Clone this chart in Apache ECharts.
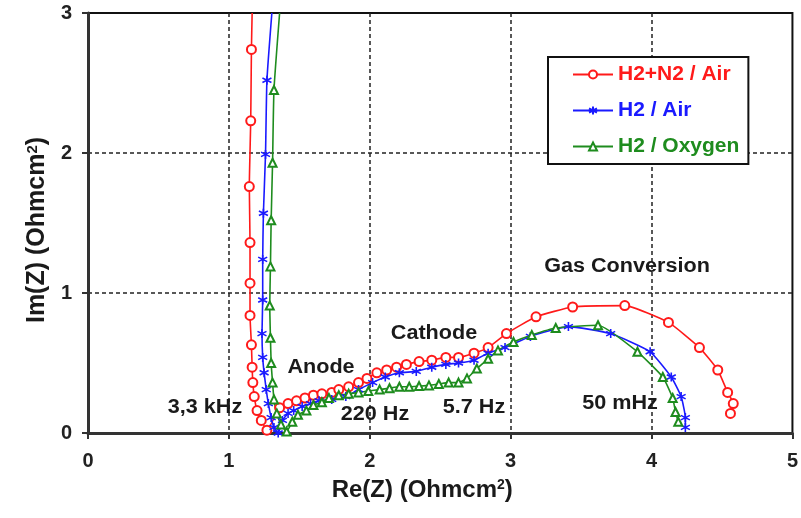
<!DOCTYPE html>
<html>
<head>
<meta charset="utf-8">
<script src="https://cdn.jsdelivr.net/npm/echarts@6/dist/echarts.min.js"></script>
<style>html,body{margin:0;padding:0;background:#fff}#c{width:801px;height:518px}</style>
</head>
<body>
<div id="c"></div>
<script>
// ---- data (Re(Z), Im(Z) in Ohm cm^2) ----
var seriesNames = ['H2+N2 / Air', 'H2 / Air', 'H2 / Oxygen'];
var xTicks = [0, 1, 2, 3, 4, 5];
var yTicks = [0, 1, 2, 3];

var redRe = [1.165, 1.16, 1.155, 1.145, 1.15, 1.15, 1.15, 1.16, 1.165, 1.17, 1.18, 1.20, 1.23, 1.27,
  1.36, 1.42, 1.48, 1.54, 1.60, 1.66, 1.73, 1.78, 1.85, 1.92, 1.98, 2.05, 2.12, 2.19, 2.26, 2.35, 2.44,
  2.54, 2.63, 2.74, 2.84, 2.97, 3.18, 3.44, 3.81, 4.12, 4.34, 4.47, 4.54, 4.58, 4.56];
var redIm = [3.0, 2.74, 2.23, 1.76, 1.36, 1.07, 0.84, 0.63, 0.47, 0.36, 0.26, 0.16, 0.09, 0.02,
  0.18, 0.21, 0.23, 0.25, 0.27, 0.28, 0.29, 0.31, 0.33, 0.36, 0.39, 0.43, 0.45, 0.47, 0.49, 0.51, 0.52,
  0.54, 0.54, 0.57, 0.61, 0.71, 0.83, 0.90, 0.91, 0.79, 0.61, 0.45, 0.29, 0.21, 0.14];

var blueRe = [1.305, 1.27, 1.26, 1.245, 1.24, 1.24, 1.235, 1.24, 1.25, 1.265, 1.28, 1.30, 1.32, 1.35,
  1.38, 1.42, 1.46, 1.52, 1.58, 1.64, 1.73, 1.83, 1.92, 2.02, 2.11, 2.21, 2.33, 2.44, 2.54, 2.63, 2.74,
  2.84, 2.96, 3.14, 3.41, 3.71, 3.99, 4.14, 4.21, 4.24, 4.24];
var blueIm = [3.0, 2.52, 1.99, 1.57, 1.24, 0.95, 0.71, 0.54, 0.43, 0.31, 0.21, 0.11, 0.04, 0.0,
  0.09, 0.14, 0.16, 0.19, 0.21, 0.23, 0.24, 0.26, 0.31, 0.36, 0.40, 0.43, 0.44, 0.47, 0.49, 0.50, 0.52,
  0.57, 0.61, 0.69, 0.76, 0.71, 0.58, 0.40, 0.26, 0.11, 0.04];

var greenRe = [1.36, 1.32, 1.31, 1.30, 1.295, 1.29, 1.295, 1.30, 1.31, 1.32, 1.34, 1.37, 1.41,
  1.45, 1.49, 1.55, 1.60, 1.66, 1.71, 1.78, 1.85, 1.92, 1.99, 2.07, 2.14, 2.21, 2.28, 2.35, 2.42, 2.49,
  2.56, 2.63, 2.69, 2.76, 2.84, 2.91, 3.02, 3.15, 3.32, 3.62, 3.90, 4.08, 4.15, 4.17, 4.19];
var greenIm = [3.0, 2.45, 1.93, 1.52, 1.19, 0.91, 0.68, 0.50, 0.36, 0.24, 0.14, 0.06, 0.01,
  0.08, 0.13, 0.16, 0.20, 0.22, 0.25, 0.27, 0.28, 0.29, 0.30, 0.31, 0.32, 0.33, 0.33, 0.335, 0.34, 0.35,
  0.36, 0.36, 0.39, 0.46, 0.53, 0.59, 0.65, 0.70, 0.75, 0.77, 0.58, 0.40, 0.25, 0.15, 0.08];

var annotations = ['Gas Conversion', 'Cathode', 'Anode', '3,3 kHz', '220 Hz', '5.7 Hz', '50 mHz'];

// ---- build ----
var FONT = '"Liberation Sans", Arial, sans-serif';
function pairs(xs, ys) {
  return xs.map(function (x, i) {
    var v = [x, ys[i]];
    return i === 0 ? { value: v, symbol: 'none' } : v;
  });
}
var RED = '#ff1a1a', BLUE = '#1a1aff', GREEN = '#1e8c1e';
var asterisk = 'path://M5,0L5,10M0.7,2.5L9.3,7.5M0.7,7.5L9.3,2.5';

var annPos = [[627, 266], [434, 333], [321, 367], [205, 407], [375, 414], [474, 407], [620, 403]];

var chart = echarts.init(document.getElementById('c'), null, { renderer: 'canvas' });
chart.setOption({
  backgroundColor: '#fff',
  animation: false,
  grid: { left: 88, right: 7, top: 13, bottom: 85, show: true, borderColor: '#111', borderWidth: 2, backgroundColor: 'transparent' },
  legend: {
    orient: 'vertical', left: 548, top: 57,
    backgroundColor: '#fff', borderColor: '#111', borderWidth: 2,
    padding: [7, 9, 7, 24], itemGap: 15, itemWidth: 40, itemHeight: 10,
    textStyle: { fontSize: 21, fontWeight: 'bold', fontFamily: FONT },
    data: [
      { name: seriesNames[0], textStyle: { color: RED } },
      { name: seriesNames[1], textStyle: { color: BLUE } },
      { name: seriesNames[2], textStyle: { color: GREEN } }
    ]
  },
  xAxis: {
    type: 'value', min: xTicks[0], max: xTicks[xTicks.length - 1], interval: 1,
    name: '{b|Re(Z) (Ohmcm}{s|2}{b|)}', nameLocation: 'middle', nameGap: 45,
    nameTextStyle: {
      padding: [0, 36, 0, 0],
      rich: {
        b: { fontSize: 24, fontWeight: 'bold', fontFamily: FONT, color: '#1a1a1a' },
        s: { fontSize: 14, fontWeight: 'bold', fontFamily: FONT, color: '#1a1a1a', verticalAlign: 'top' }
      }
    },
    axisLine: { onZero: false, lineStyle: { color: '#333', width: 3 } },
    axisTick: { length: 6, lineStyle: { color: '#333', width: 2 } },
    axisLabel: { fontSize: 20, fontWeight: 'bold', fontFamily: FONT, color: '#222', margin: 18 },
    splitLine: { show: true, showMinLine: false, showMaxLine: false, lineStyle: { type: [4, 3], color: '#222', width: 1.5 } }
  },
  yAxis: {
    type: 'value', min: yTicks[0], max: yTicks[yTicks.length - 1], interval: 1,
    name: '{b|Im(Z) (Ohmcm}{s|2}{b|)}', nameLocation: 'middle', nameGap: 34, nameRotate: 90,
    nameTextStyle: {
      padding: [0, 14, 0, 0],
      rich: {
        b: { fontSize: 25, fontWeight: 'bold', fontFamily: FONT, color: '#1a1a1a' },
        s: { fontSize: 15, fontWeight: 'bold', fontFamily: FONT, color: '#1a1a1a', verticalAlign: 'top' }
      }
    },
    axisLine: { onZero: false, lineStyle: { color: '#333', width: 3 } },
    axisTick: { length: 6, lineStyle: { color: '#333', width: 2 } },
    axisLabel: { fontSize: 20, fontWeight: 'bold', fontFamily: FONT, color: '#222', margin: 16 },
    splitLine: { show: true, showMinLine: false, showMaxLine: false, lineStyle: { type: [4, 3], color: '#222', width: 1.5 } }
  },
  series: [
    {
      name: seriesNames[0], type: 'line', data: pairs(redRe, redIm),
      symbol: 'emptyCircle', symbolSize: 9, smooth: 0.15,
      lineStyle: { color: RED, width: 1.6 },
      itemStyle: { color: RED, borderWidth: 1.5 }
    },
    {
      name: seriesNames[1], type: 'line', data: pairs(blueRe, blueIm),
      symbol: asterisk, symbolSize: 9, smooth: 0.15,
      lineStyle: { color: BLUE, width: 1.6 },
      itemStyle: { color: BLUE, borderColor: BLUE, borderWidth: 1.6 }
    },
    {
      name: seriesNames[2], type: 'line', data: pairs(greenRe, greenIm),
      symbol: 'emptyTriangle', symbolSize: 8, smooth: 0.15,
      lineStyle: { color: GREEN, width: 1.6 },
      itemStyle: { color: GREEN, borderWidth: 1.5 }
    }
  ],
  graphic: annotations.map(function (t, i) {
    return {
      type: 'text', x: annPos[i][0], y: annPos[i][1], z: 100, scaleX: 1.08,
      style: { text: t, fontSize: 20, fontWeight: 'bold', fontFamily: FONT, fill: '#1a1a1a', align: 'center', verticalAlign: 'middle' }
    };
  })
});
</script>
</body>
</html>
